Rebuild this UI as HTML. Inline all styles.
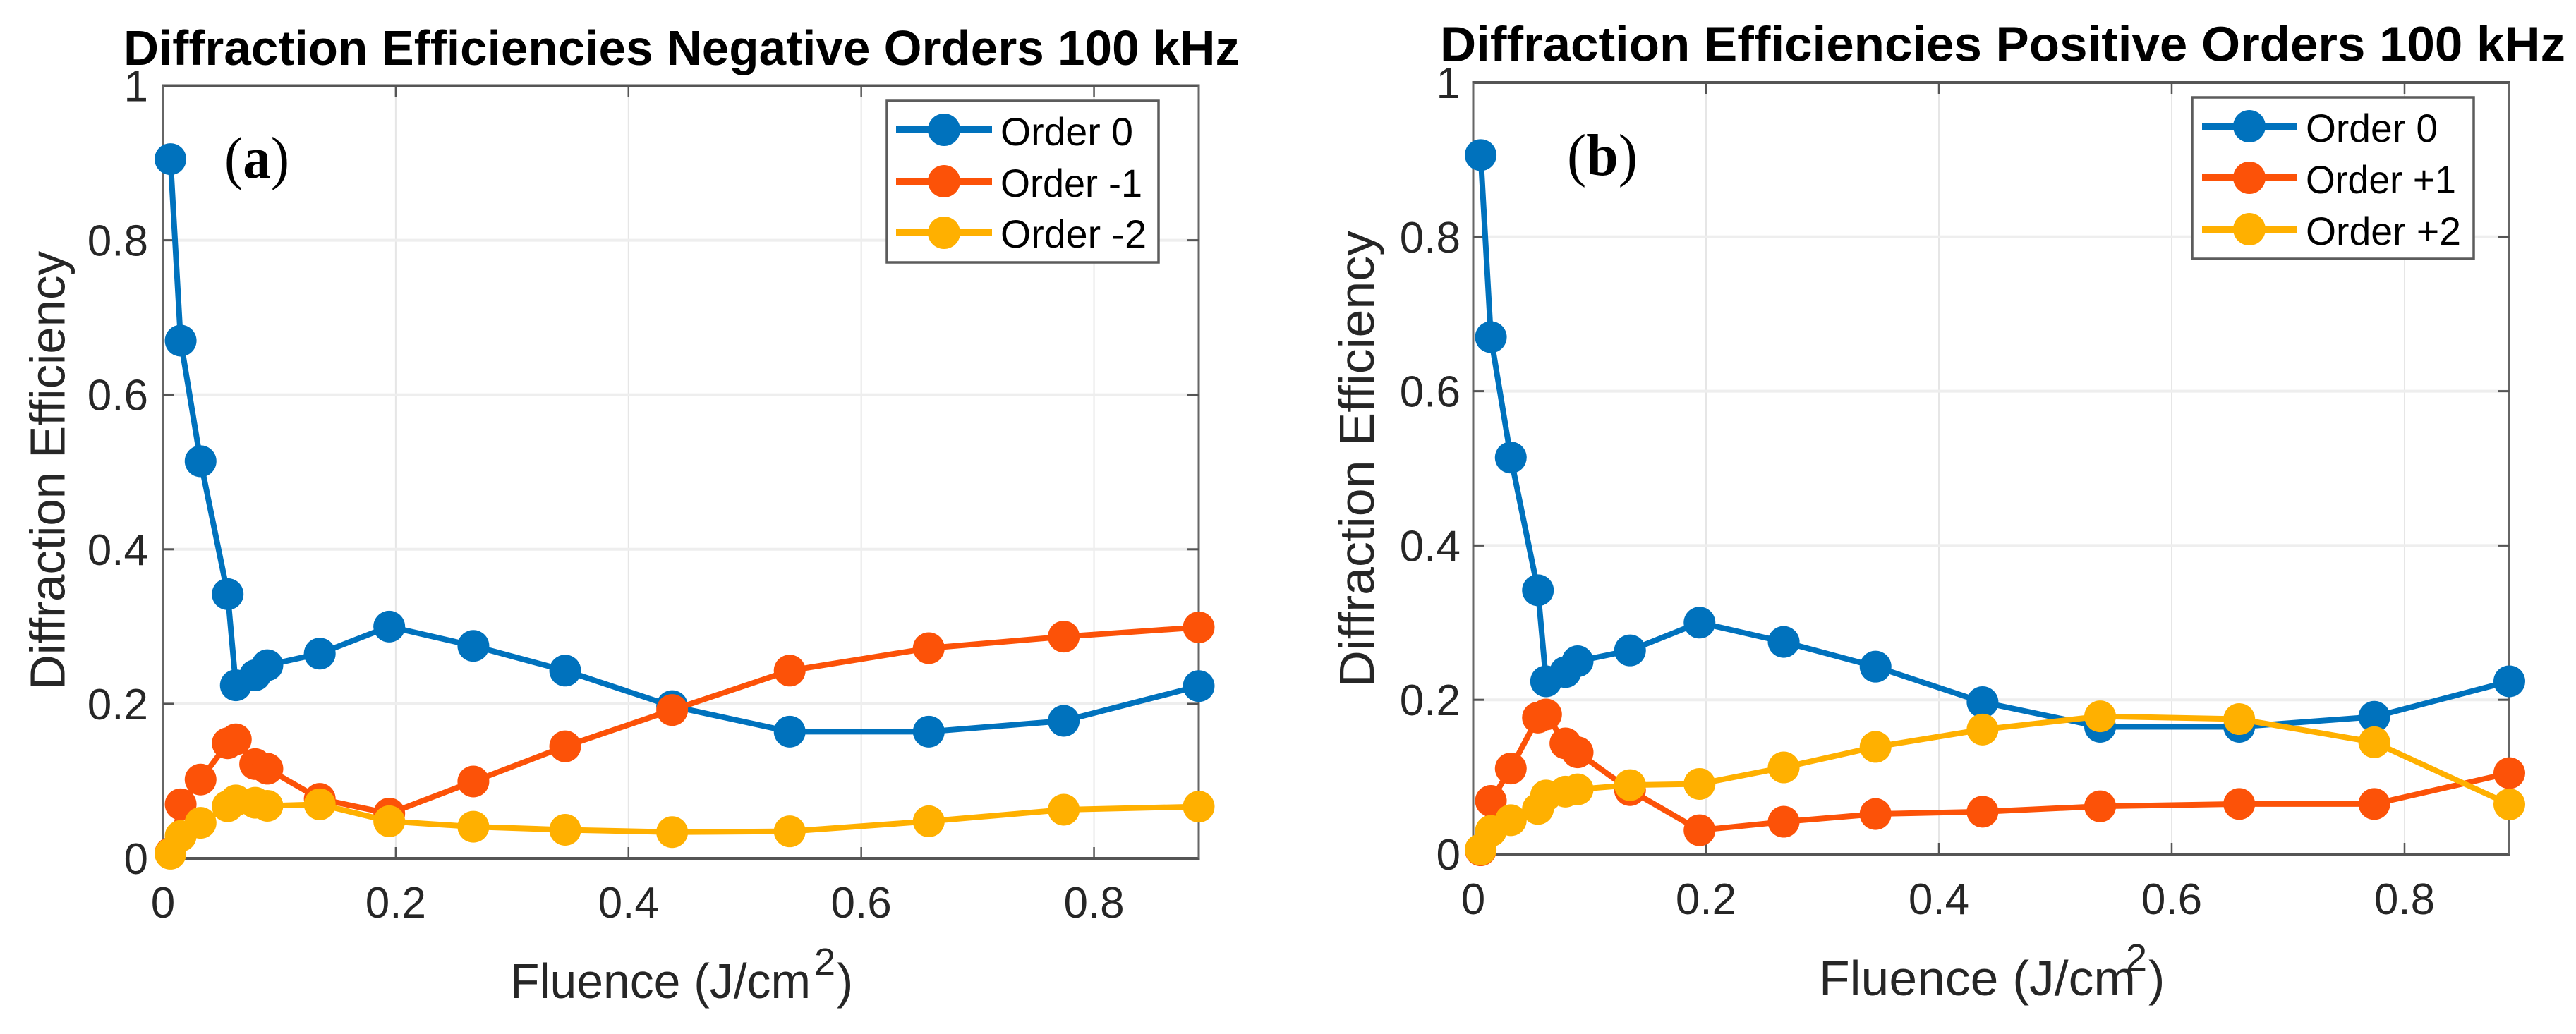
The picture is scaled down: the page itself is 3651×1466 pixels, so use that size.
<!DOCTYPE html>
<html>
<head>
<meta charset="utf-8">
<title>Diffraction Efficiencies 100 kHz</title>
<style>
html,body{margin:0;padding:0;background:#fff;}
svg{display:block;}
text{font-family:"Liberation Sans",Arial,sans-serif;}
.title{font-size:70px;font-weight:bold;fill:#000;}
.axis-title{font-size:70px;fill:#262626;}
.sup{font-size:54px;fill:#262626;}
.tick{font-size:62px;fill:#262626;}
.leg{font-size:56px;fill:#000;}
.serif{font-family:"Liberation Serif","Times New Roman",serif;font-size:84px;fill:#000;}
</style>
</head>
<body>
<svg id="figure" xmlns="http://www.w3.org/2000/svg" width="3651" height="1466" viewBox="0 0 3651 1466">
<rect width="3651" height="1466" fill="#fff"/>
<g id="panelA"></g>
<g id="panelB"></g>

<text class="title" x="175" y="92" textLength="1582" lengthAdjust="spacingAndGlyphs">Diffraction Efficiencies Negative Orders 100 kHz</text>
<text class="title" x="2041" y="86.5" textLength="1595" lengthAdjust="spacingAndGlyphs">Diffraction Efficiencies Positive Orders 100 kHz</text>

<text class="axis-title" transform="translate(91.7,978) rotate(-90)" textLength="622" lengthAdjust="spacingAndGlyphs">Diffraction Efficiency</text>
<text class="axis-title" transform="translate(1947,974) rotate(-90)" textLength="647" lengthAdjust="spacingAndGlyphs">Diffraction Efficiency</text>

<g>
<text class="axis-title" x="723" y="1415" textLength="426" lengthAdjust="spacingAndGlyphs">Fluence (J/cm</text>
<text class="sup" x="1154" y="1382">2</text>
<text class="axis-title" x="1186" y="1415">)</text>
</g>
<g>
<text class="axis-title" x="2578" y="1411" textLength="449" lengthAdjust="spacingAndGlyphs">Fluence (J/cm</text>
<text class="sup" x="3013" y="1376">2</text>
<text class="axis-title" x="3045" y="1411">)</text>
</g>

<text class="serif" x="318" y="252" textLength="92" lengthAdjust="spacingAndGlyphs">(<tspan font-weight="bold">a</tspan>)</text>
<text class="serif" x="2221" y="248" textLength="100" lengthAdjust="spacingAndGlyphs">(<tspan font-weight="bold">b</tspan>)</text>

<g>
<rect x="1257" y="143" width="385" height="229" fill="#fff" stroke="#5c5c5c" stroke-width="3.5"/>
<g>
<line x1="1270" x2="1406" y1="184" y2="184" stroke="#0072BD" stroke-width="10"/><circle cx="1338" cy="184" r="23" fill="#0072BD"/>
<text class="leg" x="1418" y="206" textLength="188" lengthAdjust="spacingAndGlyphs">Order 0</text></g>
<g>
<line x1="1270" x2="1406" y1="257" y2="257" stroke="#FC5208" stroke-width="10"/><circle cx="1338" cy="257" r="23" fill="#FC5208"/>
<text class="leg" x="1418" y="279" textLength="201" lengthAdjust="spacingAndGlyphs">Order -1</text></g>
<g>
<line x1="1270" x2="1406" y1="330" y2="330" stroke="#FFB000" stroke-width="10"/><circle cx="1338" cy="330" r="23" fill="#FFB000"/>
<text class="leg" x="1418" y="351" textLength="207" lengthAdjust="spacingAndGlyphs">Order -2</text></g>
</g>

<g>
<rect x="3107" y="138" width="399" height="229" fill="#fff" stroke="#5c5c5c" stroke-width="3.5"/>
<g>
<line x1="3121" x2="3256" y1="179" y2="179" stroke="#0072BD" stroke-width="10"/><circle cx="3188" cy="179" r="23" fill="#0072BD"/>
<text class="leg" x="3268" y="201" textLength="187" lengthAdjust="spacingAndGlyphs">Order 0</text></g>
<g>
<line x1="3121" x2="3256" y1="252" y2="252" stroke="#FC5208" stroke-width="10"/><circle cx="3188" cy="252" r="23" fill="#FC5208"/>
<text class="leg" x="3268" y="274" textLength="213" lengthAdjust="spacingAndGlyphs">Order +1</text></g>
<g>
<line x1="3121" x2="3256" y1="325" y2="325" stroke="#FFB000" stroke-width="10"/><circle cx="3188" cy="325" r="23" fill="#FFB000"/>
<text class="leg" x="3268" y="347" textLength="220" lengthAdjust="spacingAndGlyphs">Order +2</text></g>
</g>
</svg>

<script>
var xTickValues = [0, 0.2, 0.4, 0.6, 0.8];
var xTickLabels = ["0", "0.2", "0.4", "0.6", "0.8"];
var yTickValues = [0, 0.2, 0.4, 0.6, 0.8, 1];
var yTickLabels = ["0", "0.2", "0.4", "0.6", "0.8", "1"];

var fluence = [0.0064, 0.0152, 0.0323, 0.0556, 0.0626, 0.0792, 0.0897, 0.1347, 0.1944, 0.2667, 0.3456, 0.4375, 0.5385, 0.658, 0.774, 0.89];

var orderZeroA = [0.905, 0.67, 0.514, 0.342, 0.224, 0.237, 0.25, 0.265, 0.3, 0.275, 0.243, 0.197, 0.164, 0.164, 0.178, 0.223];
var orderMinusOne = [0.007, 0.07, 0.102, 0.149, 0.154, 0.122, 0.116, 0.077, 0.058, 0.0995, 0.145, 0.192, 0.243, 0.272, 0.287, 0.299];
var orderMinusTwo = [0.006, 0.029, 0.046, 0.0675, 0.075, 0.072, 0.068, 0.07, 0.048, 0.041, 0.037, 0.034, 0.035, 0.048, 0.063, 0.067];

var orderZeroB = [0.906, 0.67, 0.514, 0.342, 0.224, 0.236, 0.25, 0.264, 0.3, 0.275, 0.243, 0.197, 0.165, 0.165, 0.178, 0.224];
var orderPlusOne = [0.005, 0.069, 0.111, 0.177, 0.181, 0.1435, 0.132, 0.083, 0.031, 0.042, 0.052, 0.055, 0.062, 0.065, 0.065, 0.105];
var orderPlusTwo = [0.006, 0.03, 0.044, 0.0587, 0.076, 0.081, 0.084, 0.0895, 0.091, 0.1124, 0.139, 0.1615, 0.1786, 0.175, 0.145, 0.0645];

var SVGNS = "http://www.w3.org/2000/svg";

function make(parent, tag, attrs, txt) {
  var el = document.createElementNS(SVGNS, tag);
  for (var k in attrs) { el.setAttribute(k, attrs[k]); }
  if (txt !== undefined) { el.textContent = txt; }
  parent.appendChild(el);
  return el;
}

function drawPanel(root, box, seriesList) {
  var xScale = function (v) { return box.left + v / box.xMax * (box.right - box.left); };
  var yScale = function (v) { return box.bottom - v * (box.bottom - box.top); };

  xTickValues.forEach(function (v, i) {
    if (v === 0) { return; }
    var grid = make(root, "line", {x1: xScale(v), x2: xScale(v), y1: box.top, y2: box.bottom, stroke: "#e6e6e6", "stroke-width": 2});
    
    
  });
  yTickValues.forEach(function (v, i) {
    if (v === 0 || v === 1) { return; }
    var grid = make(root, "line", {x1: box.left, x2: box.right, y1: yScale(v), y2: yScale(v), stroke: "#eeeeee", "stroke-width": 4});
    
    
  });

  var frame = make(root, "g", {});
  
  
  make(frame, "line", {x1: box.left - 1.5, x2: box.right + 1.5, y1: box.top, y2: box.top, stroke: "#555", "stroke-width": 4});
  make(frame, "line", {x1: box.left - 1.5, x2: box.right + 1.5, y1: box.bottom, y2: box.bottom, stroke: "#555", "stroke-width": 4});
  make(frame, "line", {x1: box.left, x2: box.left, y1: box.top, y2: box.bottom, stroke: "#666", "stroke-width": 3});
  make(frame, "line", {x1: box.right, x2: box.right, y1: box.top, y2: box.bottom, stroke: "#666", "stroke-width": 3});

  xTickValues.forEach(function (v, i) {
    var x = xScale(v);
    if (v !== 0) {
      make(frame, "line", {x1: x, x2: x, y1: box.top, y2: box.top + 16, stroke: "#555", "stroke-width": 2.5});
      make(frame, "line", {x1: x, x2: x, y1: box.bottom, y2: box.bottom - 16, stroke: "#555", "stroke-width": 2.5});
    }
    var label = make(root, "text", {"class": "tick", x: x, y: box.xTickBase, "text-anchor": "middle"}, xTickLabels[i]);
    
    
  });
  yTickValues.forEach(function (v, i) {
    var y = yScale(v);
    if (v !== 0 && v !== 1) {
      make(frame, "line", {x1: box.left, x2: box.left + 16, y1: y, y2: y, stroke: "#555", "stroke-width": 3});
      make(frame, "line", {x1: box.right, x2: box.right - 16, y1: y, y2: y, stroke: "#555", "stroke-width": 3});
    }
    var label = make(root, "text", {"class": "tick", x: box.yTickRight, y: y + 22, "text-anchor": "end"}, yTickLabels[i]);
    
    
  });

  seriesList.forEach(function (s) {
    var group = make(root, "g", {});
    
    
    var pts = s.values.map(function (v, i) { return xScale(fluence[i]) + "," + yScale(v); }).join(" ");
    var line = make(group, "polyline", {points: pts, fill: "none", stroke: s.color, "stroke-width": 8, "stroke-linejoin": "round"});
    
    
    s.values.forEach(function (v, i) {
      var dot = make(group, "circle", {cx: xScale(fluence[i]), cy: yScale(v), r: 22.5, fill: s.color});
      
      
    });
  });
}

drawPanel(document.getElementById("panelA"),
  {left: 231, right: 1699, top: 121.5, bottom: 1217, xMax: 0.89, xTickBase: 1301, yTickRight: 210},
  [
    {name: "series-order-0", color: "#0072BD", values: orderZeroA},
    {name: "series-order-minus-1", color: "#FC5208", values: orderMinusOne},
    {name: "series-order-minus-2", color: "#FFB000", values: orderMinusTwo}
  ]);

drawPanel(document.getElementById("panelB"),
  {left: 2088, right: 3556.5, top: 117, bottom: 1211, xMax: 0.89, xTickBase: 1296, yTickRight: 2070},
  [
    {name: "series-order-0-b", color: "#0072BD", values: orderZeroB},
    {name: "series-order-plus-1", color: "#FC5208", values: orderPlusOne},
    {name: "series-order-plus-2", color: "#FFB000", values: orderPlusTwo}
  ]);
</script>
</body>
</html>
